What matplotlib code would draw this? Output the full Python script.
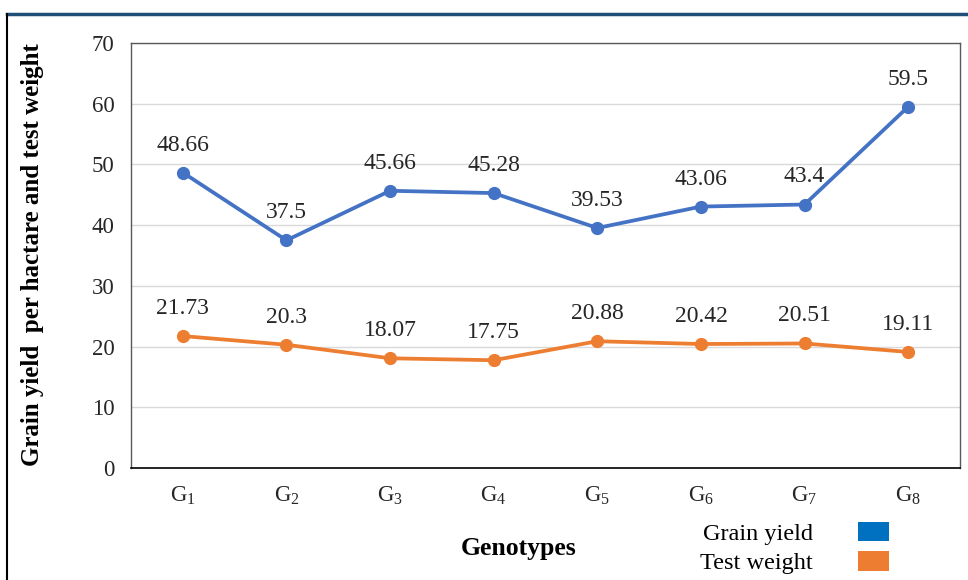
import matplotlib
matplotlib.use("Agg")
import matplotlib.pyplot as plt
from matplotlib.lines import Line2D
from matplotlib.patches import Patch

plt.rcParams['font.family'] = ['Liberation Serif', 'DejaVu Serif']
plt.rcParams['mathtext.fontset'] = 'custom'
plt.rcParams['mathtext.rm'] = 'Liberation Serif'
plt.rcParams['mathtext.it'] = 'Liberation Serif'

genotypes = [r'G$_{\mathrm{%d}}$' % i for i in range(1, 9)]
grain_yield = [48.66, 37.5, 45.66, 45.28, 39.53, 43.06, 43.4, 59.5]
test_weight = [21.73, 20.3, 18.07, 17.75, 20.88, 20.42, 20.51, 19.11]
yticks = [0, 10, 20, 30, 40, 50, 60, 70]

line_blue = '#4472C4'
line_orange = '#ED7D31'
patch_blue = '#0070C0'

W, H = 968, 580
fig = plt.figure(figsize=(W / 100, H / 100), dpi=100)
ax = fig.add_axes([131 / W, 1 - 468 / H, (960 - 131) / W, (468 - 43) / H])

x = list(range(len(genotypes)))
for vals, col in [(grain_yield, line_blue), (test_weight, line_orange)]:
    ax.plot(x, vals, color=col, lw=2.7, marker='o', ms=8.5, zorder=3,
            solid_capstyle='round')
    for xi, v in zip(x, vals):
        ax.annotate(f'{v:g}', (xi, v), xytext=(0, 22), textcoords='offset pixels',
                    ha='center', va='baseline', fontsize=17, color='#262626')

ax.set_xlim(-0.5, len(genotypes) - 0.5)
ax.set_ylim(0, 70)
ax.set_yticks(yticks)
ax.set_xticks(x)
ax.set_xticklabels(genotypes)
ax.tick_params(axis='both', length=0, labelsize=16.5, colors='#262626')
ax.tick_params(axis='y', pad=12)
ax.tick_params(axis='x', pad=12)
ax.grid(axis='y', color='#D9D9D9', lw=1)
ax.set_axisbelow(True)
for side in ['top', 'right', 'left']:
    ax.spines[side].set_color('#595959')
    ax.spines[side].set_linewidth(1)
ax.spines['bottom'].set_color('#000000')
ax.spines['bottom'].set_linewidth(1.2)

fig.text(33 / W, 1 - 255 / H, 'Grain yield  per hactare and test weight',
         rotation=90, ha='center', va='center', fontsize=18, fontweight='bold')
fig.text(519 / W, 1 - 548 / H, 'Genotypes', ha='center', va='center',
         fontsize=18.5, fontweight='bold')

handles = [Patch(facecolor=patch_blue, edgecolor='none'),
           Patch(facecolor=line_orange, edgecolor='none')]
fig.legend(handles, ['Grain yield', 'Test weight'], loc='upper left',
           bbox_to_anchor=(700 / W, 1 - 522 / H), frameon=False,
           markerfirst=False, fontsize=17.5, borderpad=0, borderaxespad=0,
           handlelength=1.3, handleheight=0.85, handletextpad=1.85,
           labelspacing=0.25)

# frame lines along the top and left edges
fig.add_artist(Line2D([7 / W, 1], [1 - 14 / H, 1 - 14 / H], color='#1F4E79',
                      lw=2.5, transform=fig.transFigure))
fig.add_artist(Line2D([7 / W, 7 / W], [0, 1 - 14 / H], color='#000000',
                      lw=1.5, transform=fig.transFigure))

fig.savefig('out.png', dpi=100)
